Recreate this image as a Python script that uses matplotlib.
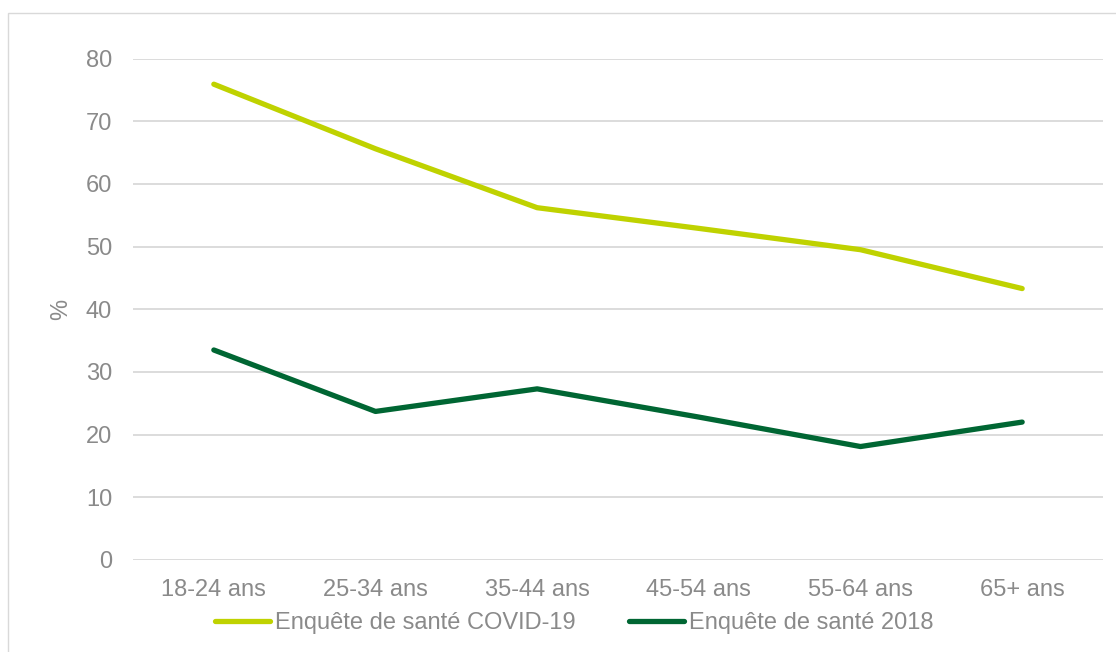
import matplotlib
matplotlib.use("Agg")
import matplotlib.pyplot as plt
from matplotlib.patches import Rectangle

categories = ["18-24 ans", "25-34 ans", "35-44 ans", "45-54 ans", "55-64 ans", "65+ ans"]
covid = [75.9, 65.6, 56.2, 52.9, 49.5, 43.3]
y2018 = [33.5, 23.7, 27.3, 22.8, 18.1, 22.0]
series_names = ["Enquête de santé COVID-19", "Enquête de santé 2018"]
yticks = [0, 10, 20, 30, 40, 50, 60, 70, 80]

plt.rcParams['font.family'] = ['Liberation Sans', 'DejaVu Sans']
W, H = 1116, 652
FS = 17
TXT = '#8A8A8A'
fig = plt.figure(figsize=(W / 100, H / 100), dpi=100)
ax = fig.add_axes([133 / W, 1 - 560 / H, (1103 - 133) / W, (560 - 58.5) / H])

x = list(range(len(categories)))
ax.plot(x, covid, color='#BFD200', lw=3.8, solid_capstyle='round', solid_joinstyle='round', label=series_names[0], zorder=3)
ax.plot(x, y2018, color='#006633', lw=3.8, solid_capstyle='round', solid_joinstyle='round', label=series_names[1], zorder=3)

ax.set_xlim(-0.5, len(categories) - 0.5)
ax.set_ylim(0, 80)
ax.set_yticks(yticks)
ax.set_xticks(x)
ax.set_xticklabels(categories)
ax.grid(axis='y', color='#D9D9D9', lw=1.3)
ax.set_axisbelow(True)
for s in ax.spines.values():
    s.set_visible(False)
ax.tick_params(axis='both', length=0, colors=TXT, labelsize=FS)
ax.tick_params(axis='x', pad=14)
ax.tick_params(axis='y', pad=15)
ax.set_ylabel('%', color=TXT, fontsize=FS, labelpad=10)

leg = fig.legend(loc='center', bbox_to_anchor=(574 / W, 1 - 623 / H), ncol=2, frameon=False,
                 fontsize=FS, handlelength=2.35, handletextpad=0.2, columnspacing=2.25)
for t in leg.get_texts():
    t.set_color(TXT)

fig.patches.append(Rectangle((8 / W, -0.05), 1.2, 1 - 13 / H + 0.05, transform=fig.transFigure,
                             fill=False, edgecolor='#D9D9D9', lw=1.0))

fig.savefig('out.png', dpi=100, facecolor='white')
